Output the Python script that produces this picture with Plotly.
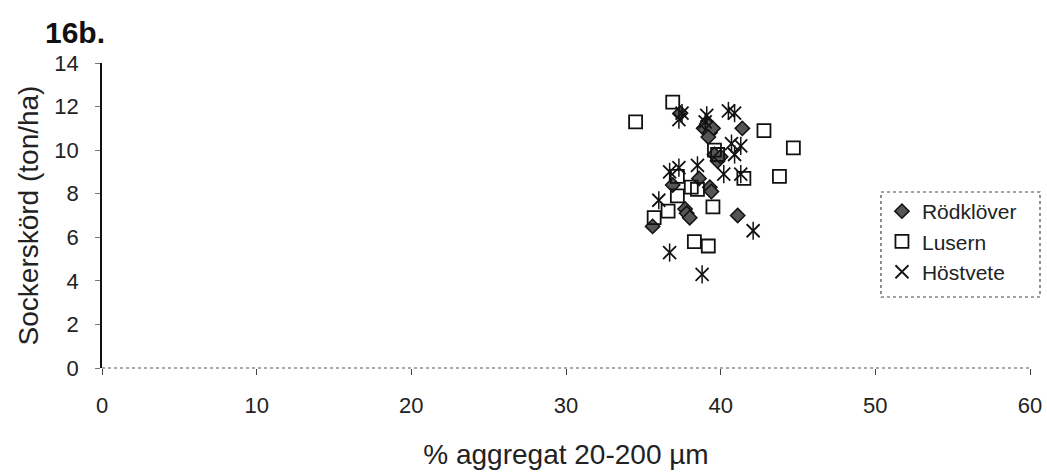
import plotly.graph_objects as go

# Data
rod_x = [37.4, 38.9, 39.1, 39.3, 39.5, 39.2, 41.4, 39.6, 39.8, 40.0, 36.9, 38.6, 39.3, 39.4, 37.7, 37.8, 38.0, 35.6, 41.1]
rod_y = [11.7, 11.0, 11.2, 10.8, 11.0, 10.6, 11.0, 9.8, 9.5, 9.7, 8.4, 8.7, 8.3, 8.1, 7.3, 7.1, 6.9, 6.5, 7.0]

lus_x = [34.5, 36.9, 42.8, 44.7, 43.8, 39.6, 39.8, 41.5, 37.2, 37.2, 38.1, 38.5, 39.5, 35.7, 36.6, 38.3, 39.2]
lus_y = [11.3, 12.2, 10.9, 10.1, 8.8, 10.0, 9.8, 8.7, 8.8, 7.9, 8.3, 8.2, 7.4, 6.9, 7.2, 5.8, 5.6]

hos_x = [37.3, 37.5, 39.1, 40.5, 40.9, 40.7, 41.3, 40.9, 40.2, 41.3, 38.5, 36.7, 37.3, 36.0, 42.1, 36.7, 38.8, 39.0]
hos_y = [11.4, 11.7, 11.6, 11.8, 11.7, 10.3, 10.2, 9.8, 8.9, 8.9, 9.3, 9.0, 9.2, 7.7, 6.3, 5.3, 4.3, 11.3]

x_ticks = [0, 10, 20, 30, 40, 50, 60]
y_ticks = [0, 2, 4, 6, 8, 10, 12, 14]

FONT = "Liberation Sans, Arial, sans-serif"
TXT = "#222222"
PW = 927.7  # plot width in px
PH = 305.0  # plot height in px

fig = go.Figure()
fig.add_trace(go.Scatter(
    x=rod_x, y=rod_y, mode="markers", name="Rödklöver",
    marker=dict(symbol="diamond", size=11, color="#555555",
                line=dict(color="#111111", width=1.5)),
))
fig.add_trace(go.Scatter(
    x=lus_x, y=lus_y, mode="markers", name="Lusern",
    marker=dict(symbol="square-open", size=13, color="#111111",
                line=dict(width=1.8)),
))
fig.add_trace(go.Scatter(
    x=hos_x, y=hos_y, mode="markers", name="Höstvete", legendgroup="h",
    marker=dict(symbol="x-thin-open", size=13, color="#111111",
                line=dict(width=1.8, color="#111111")),
))
fig.add_trace(go.Scatter(
    x=hos_x, y=hos_y, mode="markers", name="Höstvete", legendgroup="h",
    showlegend=False,
    marker=dict(symbol="line-ns-open", size=13, color="#111111",
                line=dict(width=1.5, color="#111111")),
))

# dotted x-axis line
fig.add_shape(type="line", xref="paper", yref="paper", x0=0, x1=1, y0=0, y1=0,
              line=dict(color="#555555", width=1.2, dash="dot"))
# legend border (dotted)
fig.add_shape(type="rect", xref="paper", yref="paper",
              x0=(881 - 102.3) / PW, x1=(1040 - 102.3) / PW,
              y0=(368 - 297) / PH, y1=(368 - 192) / PH,
              line=dict(color="#444444", width=1.2, dash="dot"))

fig.update_layout(
    width=1047, height=473,
    margin=dict(l=102, r=17, t=63, b=105),
    paper_bgcolor="white", plot_bgcolor="white",
    font=dict(family=FONT, size=22, color=TXT),
    showlegend=True,
    legend=dict(x=(882 - 102.3) / PW, y=(368 - 191) / PH,
                xanchor="left", yanchor="top",
                bgcolor="rgba(0,0,0,0)", borderwidth=0,
                font=dict(size=21, color=TXT), tracegroupgap=0,
                itemwidth=30),
    annotations=[dict(text="<b>16b.</b>", xref="paper", yref="paper",
                      x=-(102.3 - 43) / PW, y=(368 - 33) / PH,
                      xanchor="left", yanchor="middle", showarrow=False,
                      font=dict(size=30, color="#111111", family=FONT))],
)
fig.update_xaxes(
    range=[0, 60], tickvals=x_ticks, ticktext=[str(v) for v in x_ticks],
    showgrid=False, zeroline=False, showline=False, automargin=False,
    ticks="outside", ticklen=6, tickcolor="#444444", ticklabelstandoff=12,
    tickfont=dict(size=22),
    title=dict(text="% aggregat 20-200 µm", standoff=26, font=dict(size=28)),
)
fig.update_yaxes(
    range=[0, 14], tickvals=y_ticks, ticktext=[str(v) for v in y_ticks],
    showgrid=False, zeroline=False, showline=True, linecolor="#111111", linewidth=1.5,
    automargin=False,
    ticks="outside", ticklen=5, tickcolor="#777777", ticklabelstandoff=12,
    tickfont=dict(size=22),
    title=dict(text="Sockerskörd (ton/ha)", standoff=8, font=dict(size=28)),
)

fig.write_html("out.html")
